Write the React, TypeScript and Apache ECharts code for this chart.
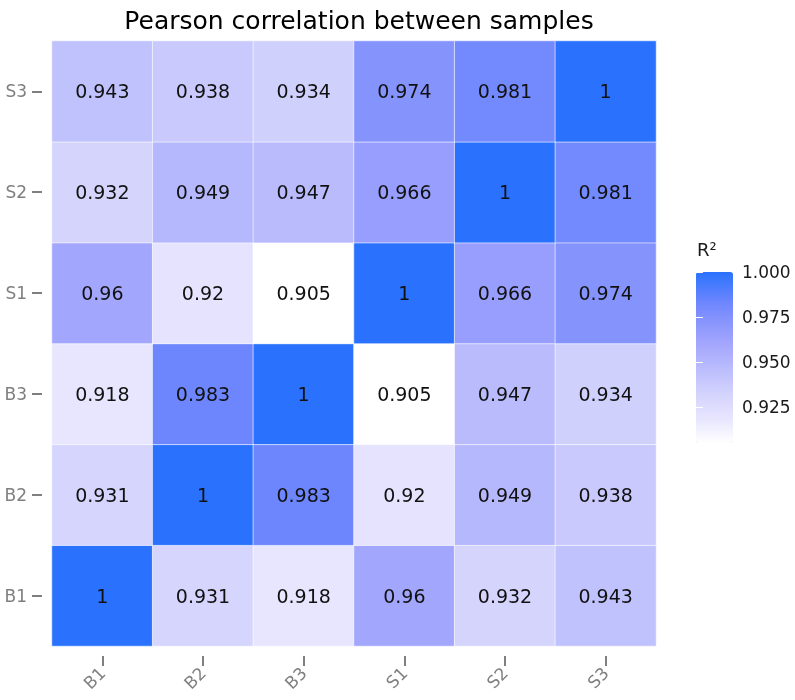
import React, { useEffect, useRef } from "react";
import * as echarts from "echarts";

const samples = ["B1", "B2", "B3", "S1", "S2", "S3"];
const rowB1 = [1, 0.931, 0.918, 0.96, 0.932, 0.943];
const rowB2 = [0.931, 1, 0.983, 0.92, 0.949, 0.938];
const rowB3 = [0.918, 0.983, 1, 0.905, 0.947, 0.934];
const rowS1 = [0.96, 0.92, 0.905, 1, 0.966, 0.974];
const rowS2 = [0.932, 0.949, 0.947, 0.966, 1, 0.981];
const rowS3 = [0.943, 0.938, 0.934, 0.974, 0.981, 1];
const rows = [rowB1, rowB2, rowB3, rowS1, rowS2, rowS3];
const legendTicks = [0.925, 0.95, 0.975, 1.0];
const valueMin = 0.905;
const valueMax = 1.0;

const FONT = "DejaVu Sans";

// colour anchors (fraction of range -> colour), styling only
const anchors: [number, string][] = [
  [0, "#ffffff"],
  [0.137, "#e8e6fe"],
  [0.274, "#d5d5fd"],
  [0.579, "#a3a6fd"],
  [0.726, "#8593fd"],
  [0.821, "#6e86fe"],
  [1, "#2a72fd"],
];
function hex(c: string) {
  return [1, 3, 5].map((i) => parseInt(c.slice(i, i + 2), 16));
}
function colorAt(t: number) {
  for (let i = 1; i < anchors.length; i++) {
    if (t <= anchors[i][0]) {
      const [t0, c0] = anchors[i - 1];
      const [t1, c1] = anchors[i];
      const f = (t - t0) / (t1 - t0);
      const a = hex(c0);
      const b = hex(c1);
      const m = a.map((v, k) => Math.round(v + (b[k] - v) * f));
      return "#" + m.map((v) => v.toString(16).padStart(2, "0")).join("");
    }
  }
  return anchors[anchors.length - 1][1];
}
const rampColors: string[] = [];
for (let i = 0; i <= 40; i++) rampColors.push(colorAt(i / 40));

export default function App() {
  const ref = useRef<HTMLDivElement>(null);
  useEffect(() => {
    if (!ref.current) return;
    const chart = echarts.init(ref.current, undefined, { renderer: "svg" });
    const data: [number, number, number][] = [];
    rows.forEach((row, yi) => row.forEach((v, xi) => data.push([xi, yi, v])));
    chart.setOption({
      animation: false,
      textStyle: { fontFamily: FONT },
      title: {
        text: "Pearson correlation between samples",
        left: 354,
        top: 3,
        textAlign: "center",
        textStyle: { fontFamily: FONT, fontSize: 25, fontWeight: "normal", color: "#000" },
      },
      grid: [
        { left: 52, right: 139, top: 41, bottom: 54 },
        { left: 696, top: 272, width: 37, height: 180 },
      ],
      xAxis: [
        {
          gridIndex: 0,
          type: "category",
          data: samples,
          offset: 10,
          axisLine: { show: false },
          axisTick: { show: true, length: 10, alignWithLabel: true, lineStyle: { color: "#7f7f7f", width: 2 } },
          axisLabel: { rotate: 45, color: "#7f7f7f", fontSize: 17, margin: 14, fontFamily: FONT },
          splitLine: { show: false },
        },
        { gridIndex: 1, type: "value", show: false },
      ],
      yAxis: [
        {
          gridIndex: 0,
          type: "category",
          data: samples,
          offset: 10,
          axisLine: { show: false },
          axisTick: { show: true, length: 10, alignWithLabel: true, lineStyle: { color: "#7f7f7f", width: 2 } },
          axisLabel: { color: "#7f7f7f", fontSize: 17, margin: 15, fontFamily: FONT },
          splitLine: { show: false },
        },
        {
          gridIndex: 1,
          type: "value",
          min: 0.9,
          max: 1.0,
          interval: 0.025,
          position: "right",
          z: 10,
          axisLine: { show: false },
          axisTick: { show: true, inside: true, length: 7, lineStyle: { color: "#ffffff", width: 1 } },
          axisLabel: {
            margin: 9,
            fontSize: 17,
            color: "#1a1a1a",
            fontFamily: FONT,
            formatter: (v: number) =>
              legendTicks.some((t) => Math.abs(t - v) < 1e-6) ? v.toFixed(3) : "",
          },
          splitLine: { show: false },
        },
        {
          gridIndex: 1,
          type: "value",
          min: 0.9,
          max: 1.0,
          interval: 0.025,
          position: "left",
          z: 10,
          axisLine: { show: false },
          axisTick: { show: true, inside: true, length: 7, lineStyle: { color: "#ffffff", width: 1 } },
          axisLabel: { show: false },
          splitLine: { show: false },
        },
      ],
      visualMap: {
        type: "continuous",
        min: valueMin,
        max: valueMax,
        orient: "vertical",
        left: 696,
        top: 272,
        itemWidth: 37,
        itemHeight: 171,
        padding: 0,
        text: null,
        calculable: false,
        showLabel: false,
        seriesIndex: 0,
        inRange: { color: rampColors },
      },
      graphic: [
        {
          type: "text",
          left: 697,
          top: 240,
          style: { text: "R²", fontSize: 18, fill: "#1a1a1a", fontFamily: FONT },
        },
      ],
      series: [
        {
          type: "heatmap",
          xAxisIndex: 0,
          yAxisIndex: 0,
          data,
          itemStyle: { borderColor: "rgba(255,255,255,0.6)", borderWidth: 1 },
          label: {
            show: true,
            fontSize: 19,
            color: "#111",
            fontFamily: FONT,
            formatter: (p: any) => String(p.value[2]),
          },
          emphasis: { disabled: true },
        },
      ],
    });
    return () => chart.dispose();
  }, []);
  return (
    <div
      ref={ref}
      style={{ position: "fixed", left: 0, top: 0, width: 795, height: 700 }}
    />
  );
}
